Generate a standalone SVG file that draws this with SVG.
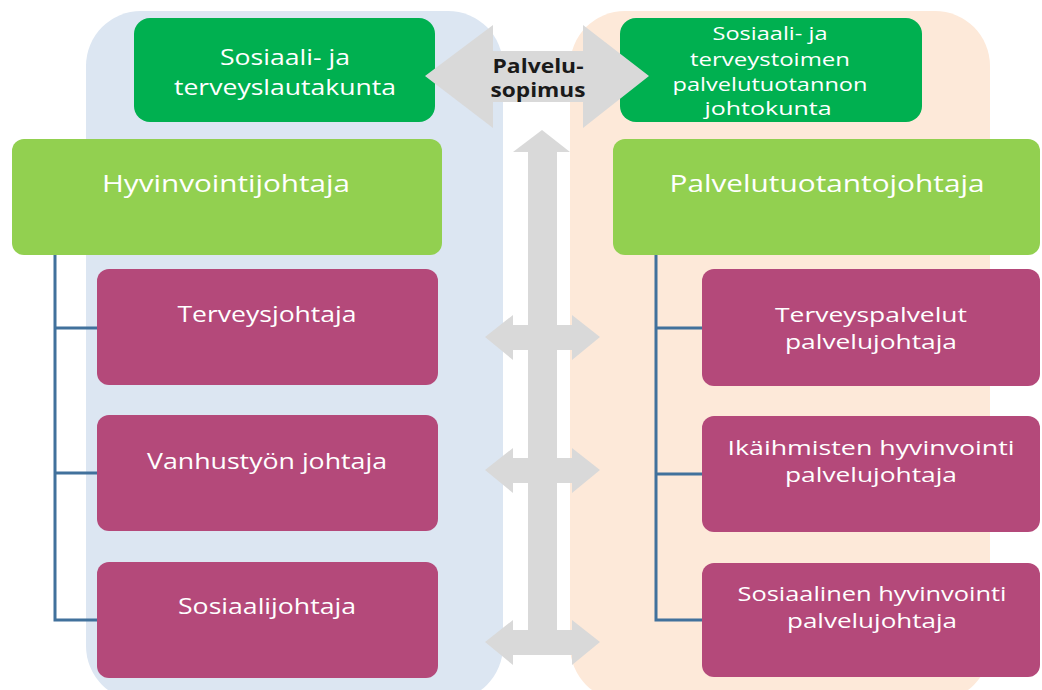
<svg xmlns="http://www.w3.org/2000/svg" width="1042" height="690" viewBox="0 0 1042 690">
<defs>
<style>
.t{font-family:"Open Sans","Noto Sans","Liberation Sans",sans-serif;fill:#ffffff;text-anchor:middle}
.b{font-family:"Open Sans","Noto Sans","Liberation Sans",sans-serif;fill:#1a1a1a;font-weight:bold;text-anchor:middle;font-size:19px}
.dg{fill:#00B050}
.lg{fill:#92D050}
.mg{fill:#B4497A}
.ar{fill:#D9D9D9}
.cn{fill:none;stroke:#41719C;stroke-width:3}
</style>
</defs>
<rect width="1042" height="690" fill="#ffffff"/>
<g id="panels">
<rect x="86" y="11" width="417" height="690" rx="55" fill="#DCE6F2"/>
<rect x="570" y="11" width="420" height="690" rx="55" fill="#FDE9D9"/>
</g>
<g id="lautakunta">
<rect class="dg" x="134" y="18" width="301" height="104" rx="16"/>
<text class="t" font-size="22" x="285" y="65" textLength="130" lengthAdjust="spacingAndGlyphs">Sosiaali- ja</text>
<text class="t" font-size="22" x="285" y="95" textLength="222" lengthAdjust="spacingAndGlyphs">terveyslautakunta</text>
</g>
<g id="johtokunta">
<rect class="dg" x="620" y="18" width="302" height="104" rx="16"/>
<text class="t" font-size="19" x="770" y="40" textLength="115" lengthAdjust="spacingAndGlyphs">Sosiaali- ja</text>
<text class="t" font-size="19" x="770" y="66" textLength="160" lengthAdjust="spacingAndGlyphs">terveystoimen</text>
<text class="t" font-size="19" x="770" y="91" textLength="195" lengthAdjust="spacingAndGlyphs">palvelutuotannon</text>
<text class="t" font-size="19" x="768" y="115" textLength="127" lengthAdjust="spacingAndGlyphs">johtokunta</text>
</g>
<g id="connectors">
<polygon class="ar" points="425,76 493,25 493,51 583,51 583,25 649,76 583,128 583,102 493,102 493,128"/>
<polygon class="ar" points="542,130 570,152 557,152 557,640 528,640 528,152 513,152"/>
<polygon class="ar" points="485,337 513,315 513,325 572,325 572,315 600,337 572,360 572,350 513,350 513,360"/>
<polygon class="ar" points="485,470 513,448 513,458 572,458 572,448 600,470 572,493 572,483 513,483 513,493"/>
<polygon class="ar" points="485,642 513,620 513,630 572,630 572,620 600,642 572,665 572,655 513,655 513,665"/>
<path class="cn" d="M55,255 V620 H97 M55,328 H97 M55,473 H97"/>
<path class="cn" d="M656,255 V620 H702 M656,328 H702 M656,474 H702"/>
</g>
<g id="sopimus">
<text class="b" x="538" y="73" textLength="91" lengthAdjust="spacingAndGlyphs">Palvelu-</text>
<text class="b" x="538" y="97" textLength="95" lengthAdjust="spacingAndGlyphs">sopimus</text>
</g>
<g id="hyvinvointijohtaja">
<rect class="lg" x="12" y="139" width="430" height="116" rx="12"/>
<text class="t" font-size="24" x="226" y="192" textLength="248" lengthAdjust="spacingAndGlyphs">Hyvinvointijohtaja</text>
</g>
<g id="palvelutuotantojohtaja">
<rect class="lg" x="613" y="139" width="427" height="116" rx="12"/>
<text class="t" font-size="24" x="827" y="192" textLength="315" lengthAdjust="spacingAndGlyphs">Palvelutuotantojohtaja</text>
</g>
<g id="terveysjohtaja">
<rect class="mg" x="97" y="269" width="341" height="116" rx="12"/>
<text class="t" font-size="22" x="267" y="322" textLength="179" lengthAdjust="spacingAndGlyphs">Terveysjohtaja</text>
</g>
<g id="vanhustyon">
<rect class="mg" x="97" y="415" width="341" height="116" rx="12"/>
<text class="t" font-size="22" x="267" y="469" textLength="240" lengthAdjust="spacingAndGlyphs">Vanhustyön johtaja</text>
</g>
<g id="sosiaalijohtaja">
<rect class="mg" x="97" y="562" width="341" height="116" rx="12"/>
<text class="t" font-size="22" x="267" y="614" textLength="178" lengthAdjust="spacingAndGlyphs">Sosiaalijohtaja</text>
</g>
<g id="terveyspalvelut">
<rect class="mg" x="702" y="269" width="338" height="117" rx="12"/>
<text class="t" font-size="20" x="871" y="322" textLength="192" lengthAdjust="spacingAndGlyphs">Terveyspalvelut</text>
<text class="t" font-size="20" x="871" y="349" textLength="172" lengthAdjust="spacingAndGlyphs">palvelujohtaja</text>
</g>
<g id="ikaihmisten">
<rect class="mg" x="702" y="416" width="338" height="116" rx="12"/>
<text class="t" font-size="20" x="871" y="455" textLength="287" lengthAdjust="spacingAndGlyphs">Ikäihmisten hyvinvointi</text>
<text class="t" font-size="20" x="871" y="482" textLength="172" lengthAdjust="spacingAndGlyphs">palvelujohtaja</text>
</g>
<g id="sosiaalinen">
<rect class="mg" x="702" y="563" width="338" height="114" rx="12"/>
<text class="t" font-size="20" x="872" y="601" textLength="269" lengthAdjust="spacingAndGlyphs">Sosiaalinen hyvinvointi</text>
<text class="t" font-size="20" x="872" y="628" textLength="170" lengthAdjust="spacingAndGlyphs">palvelujohtaja</text>
</g>
</svg>
